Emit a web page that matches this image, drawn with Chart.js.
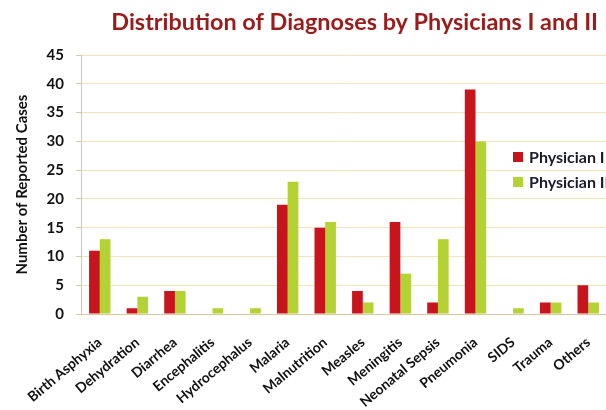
<!DOCTYPE html>
<html>
<head>
<meta charset="utf-8">
<script src="https://cdn.jsdelivr.net/npm/chart.js@4/dist/chart.umd.min.js"></script>
<style>
html,body{margin:0;padding:0;background:#fff;overflow:hidden;}
#wrap{position:relative;width:606px;height:410px;overflow:hidden;}
</style>
</head>
<body>
<div id="wrap"><canvas id="c" width="607" height="410"></canvas></div>
<script>
const categories = ["Birth Asphyxia","Dehydration","Diarrhea","Encephalitis","Hydrocephalus","Malaria","Malnutrition","Measles","Meningitis","Neonatal Sepsis","Pneumonia","SIDS","Trauma","Others"];
const physician1 = [11,1,4,0,0,19,15,4,16,2,39,0,2,5];
const physician2 = [13,3,4,1,1,23,16,2,7,13,30,1,2,2];
const seriesNames = ["Physician I","Physician II"];
const yTicks = [0,5,10,15,20,25,30,35,40,45];

const FONT = "Lato, 'Open Sans', sans-serif";

const insideLegend = {
  id: 'insideLegend',
  afterDatasetsDraw(chart) {
    const ctx = chart.ctx;
    const x0 = 513;
    const ys = [157, 182];
    ctx.save();
    ctx.font = "bold 16px " + FONT;
    ctx.textBaseline = 'middle';
    chart.data.datasets.forEach((ds, i) => {
      ctx.fillStyle = ds.backgroundColor;
      ctx.fillRect(x0, ys[i] - 5, 10, 10);
      ctx.fillStyle = '#1a1a2e';
      ctx.fillText(ds.label, x0 + 16, ys[i] + 1);
    });
    ctx.restore();
  }
};

const chart = new Chart(document.getElementById('c'), {
  type: 'bar',
  data: {
    labels: categories,
    datasets: [
      {label: seriesNames[0], data: physician1, backgroundColor: '#C8141C', borderWidth: 0},
      {label: seriesNames[1], data: physician2, backgroundColor: '#B4D234', borderWidth: 0}
    ]
  },
  options: {
    responsive: false,
    animation: false,
    devicePixelRatio: 1,
    layout: {padding: {top: 0, right: 0, left: 0, bottom: 0}},
    categoryPercentage: 0.57,
    barPercentage: 1.0,
    plugins: {
      legend: {display: false},
      tooltip: {enabled: false},
      title: {
        display: true,
        text: "Distribution of Diagnoses by Physicians I and II",
        color: '#9B1B1B',
        font: {family: FONT, size: 23.4, weight: 'bold'},
        align: 'end',
        padding: {top: 8, bottom: 19}
      }
    },
    scales: {
      x: {
        afterFit: (axis) => { axis.height = 96; axis.paddingLeft = 0; axis.paddingRight = 0; },
        grid: {display: false, drawTicks: false},
        border: {display: true, color: '#D8C79E', width: 1},
        ticks: {
          color: '#111',
          font: {family: FONT, size: 14, weight: 'bold'},
          minRotation: 40, maxRotation: 40,
          autoSkip: false,
          padding: 20
        }
      },
      y: {
        min: 0, max: 45,
        afterFit: (axis) => { axis.width = 81; },
        afterBuildTicks: (axis) => { axis.ticks = yTicks.map(v => ({value: v})); },
        grid: {color: '#F6E3B8', lineWidth: 1, drawTicks: true, tickLength: 5, tickColor: '#D8C79E'},
        border: {display: true, color: '#D8C79E', width: 1},
        ticks: {
          color: '#111',
          font: {family: FONT, size: 15, weight: 'bold'},
          padding: 12
        },
        title: {
          display: true,
          text: "Number of Reported Cases",
          color: '#111',
          font: {family: FONT, size: 15, weight: 'bold'},
          padding: {top: 13, bottom: 0}
        }
      }
    }
  },
  plugins: [insideLegend]
});

// shift the title slightly left so it ends where the reference title ends
const tb = chart.titleBlock;
if (tb) {
  const origDraw = tb.draw.bind(tb);
  tb.draw = function() {
    const ctx = chart.ctx;
    ctx.save();
    ctx.translate(-9, 0);
    origDraw();
    ctx.restore();
  };
  chart.draw();
}
</script>
</body>
</html>
